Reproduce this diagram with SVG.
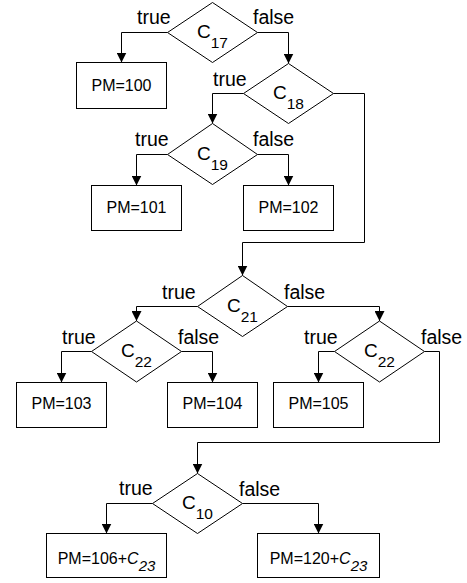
<svg xmlns="http://www.w3.org/2000/svg" width="467" height="583" viewBox="0 0 467 583">
<defs>
<marker id="arr" markerUnits="userSpaceOnUse" markerWidth="10" markerHeight="10" refX="10" refY="5" orient="auto">
<path d="M0,0 L10,5 L0,10 z" fill="#000"/>
</marker>
<style>
.d{fill:#fff;stroke:#000;stroke-width:1}
.b{fill:#fff;stroke:#000;stroke-width:1}
.c{fill:none;stroke:#000;stroke-width:1;marker-end:url(#arr)}
.t{font-family:"Liberation Sans",Arial,sans-serif;font-size:16px;fill:#000;text-anchor:middle}
.n{font-family:"Liberation Sans",Arial,sans-serif;font-size:19px;fill:#000;text-anchor:middle}
.s{font-size:15.5px}
.l{font-family:"Liberation Sans",Arial,sans-serif;font-size:19.5px;fill:#000}
</style>
</defs>
<rect width="467" height="583" fill="#fff"/>
<g id="connectors">
<path class="c" d="M167.5,32.5 H121.5 V62.5"/>
<path class="c" d="M257.5,32.5 H288.5 V63.5"/>
<path class="c" d="M243.5,93.5 H212.5 V123.5"/>
<path class="c" d="M167.5,154.5 H136.5 V185.5"/>
<path class="c" d="M257.5,154.5 H288.5 V185.5"/>
<path class="c" d="M333.5,93.5 H364.5 V242.5 H242.5 V275.5"/>
<path class="c" d="M197.5,306.5 H136.5 V321"/>
<path class="c" d="M287.5,306.5 H379.5 V321"/>
<path class="c" d="M91.5,351.5 H61.5 V382.5"/>
<path class="c" d="M181.5,351.5 H212.5 V382.5"/>
<path class="c" d="M334.5,351.5 H318.5 V382.5"/>
<path class="c" d="M424.5,351.5 H439.5 V442.5 H197.5 V473.5"/>
<path class="c" d="M152.5,503.5 H106.5 V533.5"/>
<path class="c" d="M242.5,503.5 H318.5 V533.5"/>
<text class="l" x="137" y="23.5">true</text>
<text class="l" x="253" y="23.5">false</text>
<text class="l" x="213" y="86">true</text>
<text class="l" x="135" y="146">true</text>
<text class="l" x="253" y="146">false</text>
<text class="l" x="162" y="299">true</text>
<text class="l" x="284" y="299">false</text>
<text class="l" x="62" y="344">true</text>
<text class="l" x="178" y="344">false</text>
<text class="l" x="304" y="344">true</text>
<text class="l" x="421" y="344">false</text>
<text class="l" x="119" y="495">true</text>
<text class="l" x="239" y="495.5">false</text>
</g>
<g id="c17">
<polygon class="d" points="167.5,32.5 212.5,2.5 257.5,32.5 212.5,62.5"/>
<text class="n" x="212.5" y="38">C<tspan class="s" dy="10">17</tspan></text>
</g>
<g id="pm100">
<rect class="b" x="76.5" y="62.5" width="90" height="46"/>
<text class="t" x="121.5" y="91">PM=100</text>
</g>
<g id="c18">
<polygon class="d" points="243.5,93.5 288.5,63.5 333.5,93.5 288.5,123.5"/>
<text class="n" x="288.5" y="99">C<tspan class="s" dy="10">18</tspan></text>
</g>
<g id="c19">
<polygon class="d" points="167.5,154.5 212.5,123.5 257.5,154.5 212.5,184.5"/>
<text class="n" x="212.5" y="160">C<tspan class="s" dy="10">19</tspan></text>
</g>
<g id="pm101">
<rect class="b" x="91.5" y="185.5" width="90" height="45"/>
<text class="t" x="136.5" y="212.5">PM=101</text>
</g>
<g id="pm102">
<rect class="b" x="243.5" y="185.5" width="90" height="45"/>
<text class="t" x="288.5" y="212.5">PM=102</text>
</g>
<g id="c21">
<polygon class="d" points="197.5,306.5 242.5,275.5 287.5,306.5 242.5,336.5"/>
<text class="n" x="242.5" y="312">C<tspan class="s" dy="10">21</tspan></text>
</g>
<g id="c22a">
<polygon class="d" points="91.5,351.5 136.5,321 181.5,351.5 136.5,382"/>
<text class="n" x="136.5" y="357">C<tspan class="s" dy="10">22</tspan></text>
</g>
<g id="c22b">
<polygon class="d" points="334.5,351.5 379.5,321 424.5,351.5 379.5,382"/>
<text class="n" x="379.5" y="357">C<tspan class="s" dy="10">22</tspan></text>
</g>
<g id="pm103">
<rect class="b" x="16.5" y="382.5" width="90" height="45"/>
<text class="t" x="61.5" y="409">PM=103</text>
</g>
<g id="pm104">
<rect class="b" x="167.5" y="382.5" width="90" height="45"/>
<text class="t" x="212.5" y="409">PM=104</text>
</g>
<g id="pm105">
<rect class="b" x="273.5" y="382.5" width="90" height="45"/>
<text class="t" x="318.5" y="409">PM=105</text>
</g>
<g id="c10">
<polygon class="d" points="152.5,503.5 197.5,473.5 242.5,503.5 197.5,533.5"/>
<text class="n" x="197.5" y="509">C<tspan class="s" dy="10">10</tspan></text>
</g>
<g id="pm106">
<rect class="b" x="46.5" y="533.5" width="120" height="44"/>
<text class="t" x="106.5" y="563.5">PM=106+<tspan font-style="italic">C</tspan><tspan font-style="italic" font-size="15px" dy="7">23</tspan></text>
</g>
<g id="pm120">
<rect class="b" x="257.5" y="533.5" width="122" height="44"/>
<text class="t" x="318.5" y="563.5">PM=120+<tspan font-style="italic">C</tspan><tspan font-style="italic" font-size="15px" dy="7">23</tspan></text>
</g>
</svg>
